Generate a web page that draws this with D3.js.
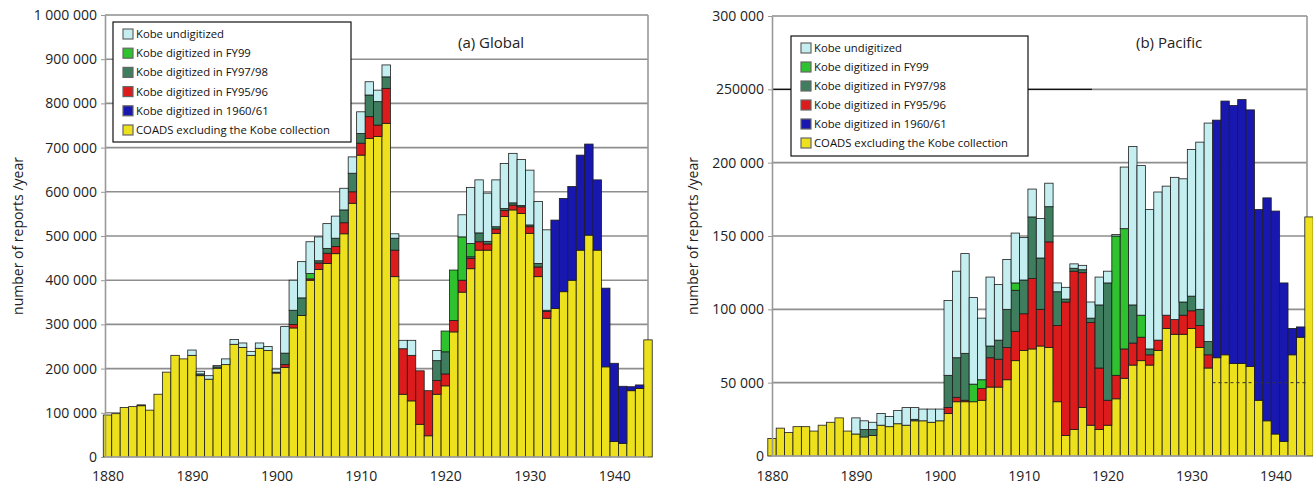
<!DOCTYPE html>
<html>
<head>
<meta charset="utf-8">
<script src="https://cdn.jsdelivr.net/npm/d3@7"></script>
<style>
  body { margin: 0; background: #fff; }
  svg { display: block; font-family: "Open Sans", "DejaVu Sans", sans-serif; }
</style>
</head>
<body>
<script>
// years on the x axis (one bar per year)
const years = d3.range(1880, 1945);
const yearTicks = [1880, 1890, 1900, 1910, 1920, 1930, 1940];

// series names, bottom of the stack first
const seriesKeys = ["coads", "kobe6061", "fy9596", "fy9798", "fy99", "undig"];
const legendLabels = ["Kobe undigitized", "Kobe digitized in FY99", "Kobe digitized in FY97/98",
  "Kobe digitized in FY95/96", "Kobe digitized in 1960/61", "COADS excluding the Kobe collection"];
const legendKeys = ["undig", "fy99", "fy9798", "fy9596", "kobe6061", "coads"];

// (a) Global, thousands of reports per year, 1880..1944
const globalCoads = [95, 98, 112, 114, 116, 106, 142, 192, 230, 222,
  230, 184, 176, 201, 209, 255, 248, 230, 246, 241,
  190, 203, 292, 320, 400, 424, 438, 460, 505, 574,
  683, 721, 725, 755, 408, 142, 127, 74, 48, 142,
  161, 283, 373, 426, 468, 468, 506, 544, 559, 551,
  506, 408, 314, 336, 374, 400, 468, 502, 468, 204,
  35, 31, 150, 155, 265];
const global6061 = [0, 0, 0, 0, 0, 0, 0, 0, 0, 0,
  0, 0, 0, 0, 0, 0, 0, 0, 0, 0,
  0, 0, 0, 0, 0, 0, 0, 0, 0, 0,
  0, 0, 0, 0, 0, 0, 0, 0, 0, 0,
  0, 0, 0, 0, 0, 0, 0, 0, 0, 0,
  0, 0, 0, 200, 211, 212, 215, 206, 159, 178,
  177, 129, 9, 8, 0];
const global9596 = [0, 0, 0, 0, 0, 0, 0, 0, 0, 0,
  0, 0, 0, 0, 0, 0, 0, 0, 0, 0,
  2, 6, 8, 0, 3, 15, 23, 16, 25, 26,
  27, 49, 26, 79, 60, 103, 103, 121, 102, 31,
  27, 26, 27, 23, 19, 14, 10, 14, 11, 15,
  15, 22, 15, 0, 0, 0, 0, 0, 0, 0,
  0, 0, 0, 0, 0];
const global9798 = [0, 0, 0, 0, 0, 0, 0, 0, 0, 0,
  0, 4, 0, 3, 0, 0, 0, 0, 0, 0,
  0, 26, 32, 40, 0, 5, 11, 19, 29, 42,
  22, 49, 53, 26, 27, 0, 0, 0, 0, 45,
  50, 0, 0, 4, 20, 6, 5, 4, 5, 3,
  4, 8, 3, 0, 0, 0, 0, 0, 0, 0,
  0, 0, 0, 0, 0];
const global99 = [0, 0, 0, 0, 0, 0, 0, 0, 0, 0,
  0, 0, 0, 0, 0, 0, 0, 0, 0, 0,
  0, 0, 0, 0, 12, 0, 0, 0, 0, 0,
  0, 0, 0, 0, 0, 0, 0, 0, 0, 0,
  47, 114, 98, 30, 0, 0, 0, 0, 0, 0,
  0, 0, 0, 0, 0, 0, 0, 0, 0, 0,
  0, 0, 0, 0, 0];
const globalUndig = [0, 0, 0, 0, 2, 0, 0, 0, 0, 0,
  12, 6, 8, 3, 13, 11, 10, 9, 12, 9,
  7, 60, 68, 82, 72, 54, 56, 50, 49, 37,
  49, 30, 26, 27, 10, 19, 34, 0, 0, 23,
  0, 0, 50, 127, 120, 109, 106, 102, 112, 104,
  124, 140, 182, 0, 0, 0, 0, 0, 0, 0,
  0, 0, 0, 0, 0];

// (b) Pacific, thousands of reports per year, 1880..1944
const pacCoads = [12, 19, 16, 20, 20, 17, 21, 23, 26, 17,
  15, 13, 14, 21, 20, 22, 21, 24, 24, 23,
  24, 29, 37, 37, 37, 38, 47, 47, 52, 65,
  72, 73, 75, 74, 37, 14, 18, 33, 21, 18,
  21, 39, 53, 62, 65, 62, 72, 87, 83, 83,
  87, 74, 60, 67, 69, 63, 63, 61, 38, 24,
  15, 10, 69, 81, 163];
const pac6061 = [0, 0, 0, 0, 0, 0, 0, 0, 0, 0,
  0, 0, 0, 0, 0, 0, 0, 0, 0, 0,
  0, 0, 0, 0, 0, 0, 0, 0, 0, 0,
  0, 0, 0, 0, 0, 0, 0, 0, 0, 0,
  0, 0, 0, 0, 0, 0, 0, 0, 0, 0,
  0, 0, 0, 162, 173, 176, 180, 175, 130, 152,
  152, 108, 18, 7, 0];
const pac9596 = [0, 0, 0, 0, 0, 0, 0, 0, 0, 0,
  0, 0, 0, 0, 0, 0, 0, 0, 0, 0,
  0, 4, 3, 1, 0, 8, 20, 19, 22, 20,
  25, 48, 25, 72, 52, 91, 108, 92, 70, 42,
  17, 16, 20, 15, 16, 7, 7, 9, 10, 13,
  12, 15, 9, 0, 0, 0, 0, 0, 0, 0,
  0, 0, 0, 0, 0];
const pac9798 = [0, 0, 0, 0, 0, 0, 0, 0, 0, 0,
  0, 5, 4, 0, 0, 0, 0, 1, 0, 0,
  0, 22, 27, 32, 0, 0, 8, 13, 26, 28,
  23, 42, 35, 24, 23, 2, 2, 2, 3, 43,
  80, 0, 0, 26, 0, 4, 0, 0, 0, 9,
  10, 11, 9, 0, 0, 0, 0, 0, 0, 0,
  0, 0, 0, 0, 0];
const pac99 = [0, 0, 0, 0, 0, 0, 0, 0, 0, 0,
  0, 0, 0, 0, 0, 0, 0, 0, 0, 0,
  0, 0, 0, 0, 12, 6, 0, 0, 0, 5,
  0, 0, 0, 0, 0, 0, 0, 0, 0, 0,
  0, 95, 82, 0, 15, 0, 0, 0, 0, 0,
  0, 0, 0, 0, 0, 0, 0, 0, 0, 0,
  0, 0, 0, 0, 0];
const pacUndig = [0, 0, 0, 0, 0, 0, 0, 0, 0, 0,
  11, 6, 5, 8, 7, 9, 12, 8, 8, 9,
  8, 51, 59, 68, 59, 42, 47, 38, 34, 34,
  29, 19, 27, 16, 6, 8, 3, 3, 11, 19,
  8, 1, 42, 108, 102, 95, 101, 88, 97, 84,
  100, 114, 149, 0, 0, 0, 0, 0, 0, 0,
  0, 0, 0, 0, 0];

// y tick values and the labels exactly as printed
const globalTicks = [0, 100000, 200000, 300000, 400000, 500000, 600000, 700000, 800000, 900000, 1000000];
const globalTickLabels = ["0", "100 000", "200 000", "300 000", "400 000", "500 000", "600 000",
  "700 000", "800 000", "900 000", "1 000 000"];
const pacTicks = [0, 50000, 100000, 150000, 200000, 250000, 300000];
const pacTickLabels = ["0", "50 000", "100 000", "150 000", "200 000", "250000", "300 000"];

const colors = {
  undig: "#c4eef0",
  fy99: "#2ec22e",
  fy9798: "#3e7d5e",
  fy9596: "#dc1c1c",
  kobe6061: "#1818b0",
  coads: "#ede01c"
};

// build one row per year from the arrays (values in thousands -> reports)
function makeTable(cols) {
  return years.map((yr, i) => {
    let row = {year: yr};
    seriesKeys.forEach((k, j) => { row[k] = cols[j][i] * 1000; });
    return row;
  });
}

const globalData = makeTable([globalCoads, global6061, global9596, global9798, global99, globalUndig]);
const pacData = makeTable([pacCoads, pac6061, pac9596, pac9798, pac99, pacUndig]);

const svg = d3.select("body").append("svg")
  .attr("width", 1313)
  .attr("height", 486);

function drawPanel(cfg) {
  let g = svg.append("g");

  let x = d3.scaleLinear().domain([1880, 1944]).range([cfg.firstX, cfg.lastX]);
  let y = d3.scaleLinear().domain([0, cfg.yMax]).range([cfg.bottom, cfg.top]);
  let barW = (cfg.lastX - cfg.firstX) / 64;

  // horizontal gridlines
  g.selectAll(".grid").data(cfg.ticks.filter(d => d > 0)).enter().append("line")
    .attr("x1", cfg.axisX).attr("x2", cfg.borderX)
    .attr("y1", d => y(d)).attr("y2", d => y(d))
    .attr("stroke", "#8e8e8e").attr("stroke-width", 1.6);

  if (cfg.blackGrid) {
    // one gridline is drawn partly in black in the original
    g.append("line")
      .attr("x1", cfg.axisX).attr("x2", cfg.blackGrid.toX)
      .attr("y1", y(cfg.blackGrid.value)).attr("y2", y(cfg.blackGrid.value))
      .attr("stroke", "#111").attr("stroke-width", 1.3);
  }

  // right border
  g.append("line")
    .attr("x1", cfg.borderX).attr("x2", cfg.borderX)
    .attr("y1", cfg.top).attr("y2", cfg.bottom)
    .attr("stroke", "#999").attr("stroke-width", 1.6);

  // stacked bars
  let stacked = d3.stack().keys(seriesKeys)(cfg.data);
  g.selectAll(".series").data(stacked).enter().append("g")
    .attr("fill", d => colors[d.key])
    .selectAll("rect")
    .data(d => d.filter(s => s[1] - s[0] > 0))
    .enter().append("rect")
    .attr("x", d => x(d.data.year) - barW / 2)
    .attr("width", barW)
    .attr("y", d => y(d[1]))
    .attr("height", d => y(d[0]) - y(d[1]))
    .attr("stroke", "#1c1c1c")
    .attr("stroke-width", 0.8);

  if (cfg.dashed) {
    g.append("line")
      .attr("x1", x(cfg.dashed.fromYear)).attr("x2", cfg.borderX)
      .attr("y1", y(cfg.dashed.value)).attr("y2", y(cfg.dashed.value))
      .attr("stroke", "#333").attr("stroke-width", 1)
      .attr("stroke-dasharray", "3,3");
  }

  // left axis
  let yAxis = d3.axisLeft(y)
    .tickValues(cfg.ticks)
    .tickFormat((d, i) => cfg.tickLabels[i])
    .tickSizeInner(4).tickSizeOuter(0).tickPadding(4);
  let ya = g.append("g").attr("transform", `translate(${cfg.axisX},0)`).call(yAxis);
  ya.select(".domain").attr("stroke", "#999").attr("stroke-width", 1.6);
  ya.selectAll(".tick line").attr("stroke", "#999");
  ya.selectAll("text").attr("fill", "#222").style("font-size", "14px")
    .style("font-family", "'Open Sans', sans-serif");

  // baseline
  g.append("line")
    .attr("x1", cfg.axisX).attr("x2", cfg.borderX)
    .attr("y1", cfg.bottom).attr("y2", cfg.bottom)
    .attr("stroke", "#aaa").attr("stroke-width", 1.4);

  // bottom labels
  let xAxis = d3.axisBottom(x).tickValues(yearTicks).tickFormat(d3.format("d")).tickSize(0);
  let xa = g.append("g").attr("transform", `translate(0,${cfg.bottom})`).call(xAxis);
  xa.select(".domain").remove();
  xa.selectAll("text").attr("y", 481 - cfg.bottom).attr("dy", null)
    .attr("fill", "#222").style("font-size", "14px")
    .style("font-family", "'Open Sans', sans-serif");

  // y axis title
  g.append("text")
    .attr("transform", `translate(${cfg.yTitleX},236) rotate(-90)`)
    .attr("text-anchor", "middle")
    .attr("dy", "0.35em")
    .attr("fill", "#222")
    .style("font-size", "14px")
    .text("number of reports /year");

  // panel title
  g.append("text")
    .attr("x", cfg.titleX).attr("y", 48)
    .attr("fill", "#222")
    .style("font-size", "15px")
    .text(cfg.title);

  // legend
  let lg = g.append("g").attr("transform", `translate(${cfg.legend.x},${cfg.legend.y})`);
  lg.append("rect")
    .attr("width", cfg.legend.w).attr("height", cfg.legend.h)
    .attr("fill", "#fff").attr("stroke", "#111").attr("stroke-width", 1.2);
  let rows = lg.selectAll(".row").data(legendKeys).enter().append("g")
    .attr("transform", (d, i) => `translate(10,${12 + i * cfg.legend.step})`);
  rows.append("rect")
    .attr("x", 0).attr("y", -5).attr("width", 10).attr("height", 10)
    .attr("fill", d => colors[d])
    .attr("stroke", "#666").attr("stroke-width", 1.2);
  rows.append("text")
    .attr("x", 13).attr("dy", "0.35em")
    .attr("fill", "#111")
    .style("font-size", "11.3px")
    .text((d, i) => legendLabels[i]);
}

drawPanel({
  data: globalData,
  yMax: 1000000, ticks: globalTicks, tickLabels: globalTickLabels,
  firstX: 107.5, lastX: 648, axisX: 105, borderX: 648,
  top: 15, bottom: 457,
  yTitleX: 18, title: "(a) Global", titleX: 458,
  legend: {x: 113, y: 22, w: 238, h: 120, step: 19.2}
});

drawPanel({
  data: pacData,
  yMax: 300000, ticks: pacTicks, tickLabels: pacTickLabels,
  firstX: 772, lastX: 1309, axisX: 772, borderX: 1307,
  top: 16, bottom: 456,
  yTitleX: 693, title: "(b) Pacific", titleX: 1136,
  blackGrid: {value: 250000, toX: 1092},
  dashed: {value: 50000, fromYear: 1932.5},
  legend: {x: 791, y: 36, w: 237, h: 120, step: 19}
});
</script>
</body>
</html>
